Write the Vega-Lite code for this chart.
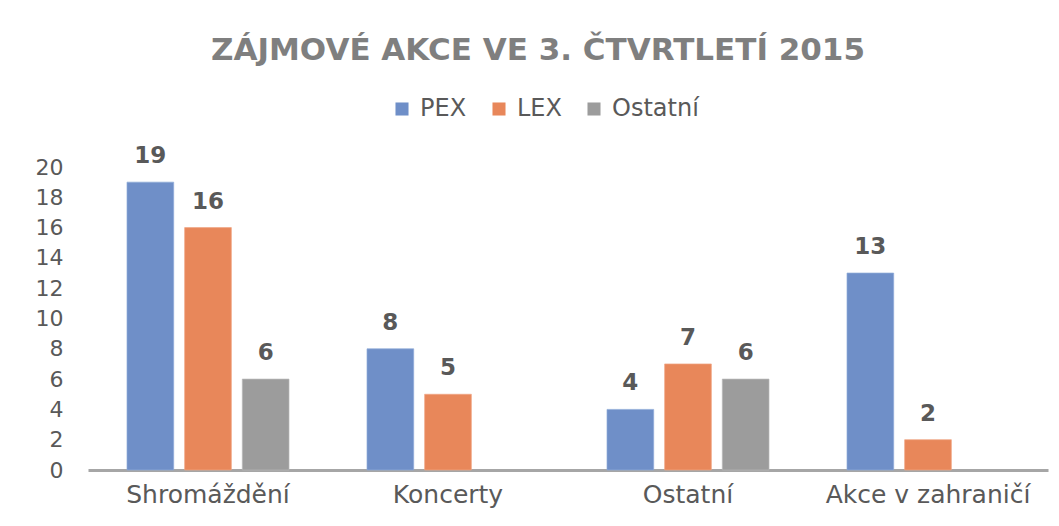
{
  "$schema": "https://vega.github.io/schema/vega-lite/v6.json",
  "width": 960,
  "height": 303,
  "autosize": {"type": "none"},
  "padding": {"left": 88, "top": 167, "right": 11, "bottom": 56},
  "background": "white",
  "title": {
    "text": "ZÁJMOVÉ AKCE VE 3. ČTVRTLETÍ 2015",
    "anchor": "middle",
    "dx": -30,
    "fontSize": 31,
    "font": "DejaVu Sans",
    "fontWeight": "bold",
    "color": "#7f7f7f",
    "offset": 30
  },
  "data": {
    "values": [
      {"kategorie": "Shromáždění", "skupina": "PEX", "pocet": 19},
      {"kategorie": "Shromáždění", "skupina": "LEX", "pocet": 16},
      {"kategorie": "Shromáždění", "skupina": "Ostatní", "pocet": 6},
      {"kategorie": "Koncerty", "skupina": "PEX", "pocet": 8},
      {"kategorie": "Koncerty", "skupina": "LEX", "pocet": 5},
      {"kategorie": "Ostatní", "skupina": "PEX", "pocet": 4},
      {"kategorie": "Ostatní", "skupina": "LEX", "pocet": 7},
      {"kategorie": "Ostatní", "skupina": "Ostatní", "pocet": 6},
      {"kategorie": "Akce v zahraničí", "skupina": "PEX", "pocet": 13},
      {"kategorie": "Akce v zahraničí", "skupina": "LEX", "pocet": 2}
    ]
  },
  "encoding": {
    "x": {
      "field": "kategorie",
      "type": "nominal",
      "sort": ["Shromáždění", "Koncerty", "Ostatní", "Akce v zahraničí"],
      "scale": {"paddingInner": 0.325, "paddingOuter": 0.1625},
      "axis": {
        "title": null,
        "labelAngle": 0,
        "labelFontSize": 25,
        "labelFont": "DejaVu Sans",
        "labelColor": "#595959",
        "labelPadding": 12,
        "labelLimit": 300,
        "ticks": false,
        "domainColor": "#a6a6a6",
        "domainWidth": 3
      }
    },
    "xOffset": {
      "field": "skupina",
      "type": "nominal",
      "sort": ["PEX", "LEX", "Ostatní"],
      "scale": {"domain": ["PEX", "LEX", "Ostatní"], "paddingInner": 0.19, "paddingOuter": 0}
    },
    "y": {
      "field": "pocet",
      "type": "quantitative",
      "scale": {"domain": [0, 20]},
      "axis": {
        "title": null,
        "values": [0, 2, 4, 6, 8, 10, 12, 14, 16, 18, 20],
        "labelFontSize": 22,
        "labelFont": "DejaVu Sans",
        "labelColor": "#595959",
        "labelPadding": 25,
        "ticks": false,
        "domain": false,
        "grid": false
      }
    }
  },
  "layer": [
    {
      "mark": {"type": "bar", "strokeWidth": 1, "strokeOpacity": 0.7},
      "encoding": {
        "color": {
          "field": "skupina",
          "type": "nominal",
          "sort": ["PEX", "LEX", "Ostatní"],
          "scale": {"domain": ["PEX", "LEX", "Ostatní"], "range": ["#6f8fc8", "#e8875a", "#9c9c9c"]},
          "legend": {
            "title": null,
            "orient": "none",
            "direction": "horizontal",
            "legendX": 302,
            "legendY": -70,
            "symbolType": "square",
            "symbolSize": 170,
            "symbolStrokeWidth": 0,
            "symbolOpacity": 1,
            "labelFontSize": 24,
            "labelFont": "DejaVu Sans",
            "labelColor": "#595959",
            "labelOffset": 6,
            "columnPadding": 20
          }
        },
        "stroke": {
          "field": "skupina",
          "type": "nominal",
          "scale": {"domain": ["PEX", "LEX", "Ostatní"], "range": ["#8fabd9", "#f0a584", "#b8b8b8"]},
          "legend": null
        }
      }
    },
    {
      "mark": {
        "type": "text",
        "baseline": "alphabetic",
        "dy": -19,
        "fontSize": 23,
        "fontWeight": "bold",
        "font": "DejaVu Sans",
        "color": "#595959"
      },
      "encoding": {"text": {"field": "pocet", "type": "quantitative"}}
    }
  ],
  "config": {"view": {"stroke": null}}
}
